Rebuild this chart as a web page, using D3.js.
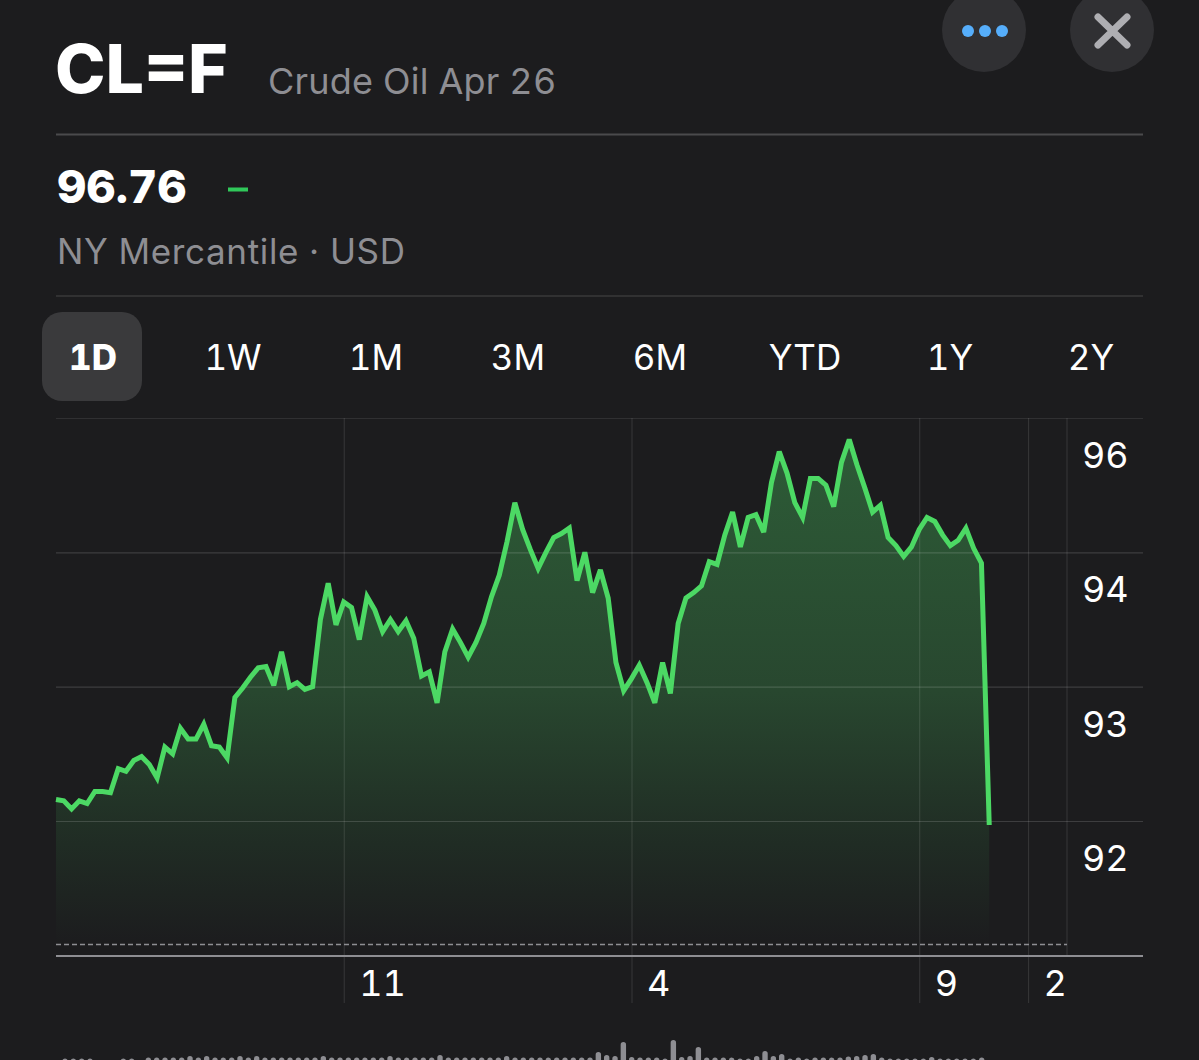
<!DOCTYPE html>
<html><head><meta charset="utf-8">
<script src="https://cdn.jsdelivr.net/npm/d3@7"></script>
<style>html,body{margin:0;padding:0;background:#1c1c1e;overflow:hidden}svg{display:block}text{font-family:Inter,"Noto Sans",sans-serif;font-feature-settings:"tnum" 1}</style>
</head><body><svg id="c" width="1199" height="1060"></svg>
<script>
const symbol = "CL=F";
const instrument = "Crude Oil Apr 26";
const lastPrice = "96.76";
const exchange = "NY Mercantile · USD";
const ranges = ["1D","1W","1M","3M","6M","YTD","1Y","2Y"];
const prices = [92.16,92.15,92.09,92.15,92.13,92.22,92.22,92.21,92.39,92.37,92.45,92.48,92.42,92.32,92.55,92.50,92.69,92.61,92.61,92.72,92.56,92.55,92.47,
92.92,92.99,93.07,93.14,93.15,93.01,93.26,93.00,93.03,92.98,93.00,93.50,93.77,93.46,93.63,93.59,93.35,93.67,93.57,93.41,93.50,93.41,93.49,93.36,93.08,93.11,92.88,
93.26,93.43,93.33,93.22,93.33,93.47,93.67,93.83,94.08,94.37,94.17,94.02,93.88,94.00,94.11,94.14,94.18,93.79,94.00,93.70,93.87,93.66,93.18,92.97,93.06,93.16,93.03,92.88,93.18,92.95,
93.47,93.66,93.70,93.75,93.93,93.91,94.13,94.30,94.04,94.26,94.28,94.15,94.52,94.75,94.59,94.37,94.26,94.55,94.55,94.50,94.34,94.67,94.84,94.65,94.48,94.30,94.35,94.11,94.05,93.97,94.04,94.17,94.26,94.23,94.13,94.05,94.09,94.18,94.03,93.92,91.97];
const volumes = [6.5,6.5,6.5,6.5,0,0,0,6.5,6.5,0,7.5,7.5,7.5,7.5,7.5,9,7.5,9,7.5,7.5,7.5,9,7.5,9,7.5,7.5,7.5,7.5,7.5,7.5,7.5,9,7.5,7.5,7.5,7.5,7.5,7.5,7.5,9,7.5,7.5,7.5,7.5,7.5,10,7.5,7.5,7.5,7.5,7.5,7.5,7.5,9,7.5,7.5,7.5,7.5,7.5,7.5,7.5,7.5,7.5,7.5,13,10,9,23,8,7.5,7.5,7.5,6.5,25,8,9,18,7.5,7.5,7.5,7.5,6.5,6.5,9,14,9,11,6.5,7.5,6.5,7.5,7.5,7.5,7.5,8.5,9,10,11,7.5,6.5,6.5,6.5,6.5,6.5,8,6.5,6.5,6.5,6.5,6.5,7.5];
const priceTicks = [92,93,94,95];
const priceLabels = ["92","93","94","96"];
const timeTicks = [37,74,111,125];
const timeLabels = ["11","4","9","2"];
const previousClose = 91.08;

const svg = d3.select("#c");
const green="#4cd964";
const x = d3.scaleLinear().domain([0,130]).range([56,1067]);
const y = d3.scaleLinear().domain([92,95]).range([821,418]);
const xVol = d3.scaleLinear().domain([0,volumes.length-1]).range([65,981.7]);
const yVol = d3.scaleLinear().domain([0,25]).range([1065,1040]);
const tabX = d3.scaleOrdinal().domain(ranges).range([93,233,376,518,660,805,950,1091]);

// header
svg.append("text").attr("x",55).attr("y",93).attr("font-size",68).attr("font-weight",800).attr("fill","#fff").attr("letter-spacing",0).text(symbol);
svg.append("text").attr("x",268).attr("y",94).attr("font-size",36).attr("fill","#8e8e93").attr("letter-spacing",.2).text(instrument);
svg.append("line").attr("x1",56).attr("x2",1143).attr("y1",134.5).attr("y2",134.5).attr("stroke","#4a4a4c").attr("stroke-width",2);
svg.append("text").attr("x",57).attr("y",203).attr("font-size",45.5).attr("font-weight",800).attr("fill","#fff").text(lastPrice);
svg.append("rect").attr("x",228).attr("y",187.5).attr("width",20).attr("height",4).attr("fill","#30c85a");
svg.append("text").attr("x",57).attr("y",264).attr("font-size",35).attr("letter-spacing",.65).attr("fill","#8e8e93").text(exchange);
svg.append("line").attr("x1",56).attr("x2",1143).attr("y1",296).attr("y2",296).attr("stroke","#38383a").attr("stroke-width",1.5);

// buttons
svg.append("circle").attr("cx",984).attr("cy",30).attr("r",42).attr("fill","#303033");
svg.append("circle").attr("cx",1112).attr("cy",30).attr("r",42).attr("fill","#303033");
svg.selectAll(".dot").data([968,985,1002]).join("circle").attr("class","dot").attr("cx",d=>d).attr("cy",31).attr("r",6).attr("fill","#56aefb");
svg.append("path").attr("d","M1098 17L1127 45M1127 17L1098 45").attr("stroke","#aeaeb2").attr("stroke-width",7).attr("stroke-linecap","round");

// range tabs
svg.append("rect").attr("x",42).attr("y",312).attr("width",100).attr("height",89).attr("rx",20).attr("fill","#3a3a3c");
svg.selectAll(".tab").data(ranges).join("text").attr("class","tab").attr("x",d=>tabX(d)).attr("y",370)
  .attr("text-anchor","middle").attr("font-size",35).attr("font-weight",(d,i)=>i===0?800:400).attr("fill","#fff").text(d=>d);

// gradient
const defs = svg.append("defs");
const grad = defs.append("linearGradient").attr("id","fade").attr("gradientUnits","userSpaceOnUse").attr("x1",0).attr("x2",0).attr("y1",y(94.84)).attr("y2",y(previousClose));
[[0,"#2d5c37"],[.5,"#28472f"],[.8,"#202c24"],[1,"#1c1c1e"]].forEach(s=>grad.append("stop").attr("offset",s[0]).attr("stop-color",s[1]));

// area
svg.append("path").datum(prices).attr("fill","url(#fade)")
  .attr("d",d3.area().x((d,i)=>x(i)).y0(y(previousClose)).y1(d=>y(d)));

// y axis with gridlines
const yAxis = svg.append("g").attr("transform","translate(56,0)")
  .call(d3.axisRight(y).tickValues(priceTicks).tickSize(1087).tickFormat((d,i)=>priceLabels[i]));
yAxis.select(".domain").remove();
yAxis.selectAll("line").attr("stroke","#fff").attr("stroke-opacity",.15).attr("stroke-width",1.2);
yAxis.selectAll("text").attr("x",1026).attr("y",0).attr("dy",49.5).attr("font-size",36).attr("fill","#fff").attr("text-anchor","start").attr("font-family",'Inter,"Noto Sans",sans-serif');
yAxis.selectAll(".tick").filter(d=>d===95).select("line").attr("stroke-opacity",.09);

// x axis with gridlines
const xAxis = svg.append("g").attr("transform","translate(0,956)")
  .call(d3.axisBottom(x).tickValues(timeTicks).tickFormat((d,i)=>timeLabels[i]));
xAxis.select(".domain").remove();
xAxis.selectAll("line").attr("y1",-538).attr("y2",47).attr("stroke","#fff").attr("stroke-opacity",.12).attr("stroke-width",1);
xAxis.selectAll("text").attr("x",15).attr("y",40).attr("dy",0).attr("font-size",36).attr("fill","#fff").attr("text-anchor","start").attr("font-family",'Inter,"Noto Sans",sans-serif');
svg.append("line").attr("x1",x(130)).attr("x2",x(130)).attr("y1",418).attr("y2",956).attr("stroke","#fff").attr("stroke-opacity",.12);

// previous close + baseline
svg.append("line").attr("x1",56).attr("x2",x(130)).attr("y1",y(previousClose)).attr("y2",y(previousClose))
  .attr("stroke","#8e8e93").attr("stroke-width",1.5).attr("stroke-dasharray","5 3");
svg.append("line").attr("x1",56).attr("x2",1143).attr("y1",956).attr("y2",956).attr("stroke","#8e8e93").attr("stroke-width",2);

// price line
svg.append("path").datum(prices).attr("fill","none").attr("stroke",green).attr("stroke-width",5).attr("stroke-linejoin","miter").attr("stroke-miterlimit",3)
  .attr("d",d3.line().x((d,i)=>x(i)).y(d=>y(d)));

// volume bars
svg.selectAll(".vol").data(volumes.map((v,i)=>({v,i})).filter(d=>d.v>0)).join("rect").attr("class","vol")
  .attr("x",d=>xVol(d.i)-2.7).attr("width",5.4).attr("y",d=>yVol(d.v)).attr("height",d=>yVol(0)-yVol(d.v)).attr("rx",2.7).attr("fill","#8e8e93");
</script></body></html>
